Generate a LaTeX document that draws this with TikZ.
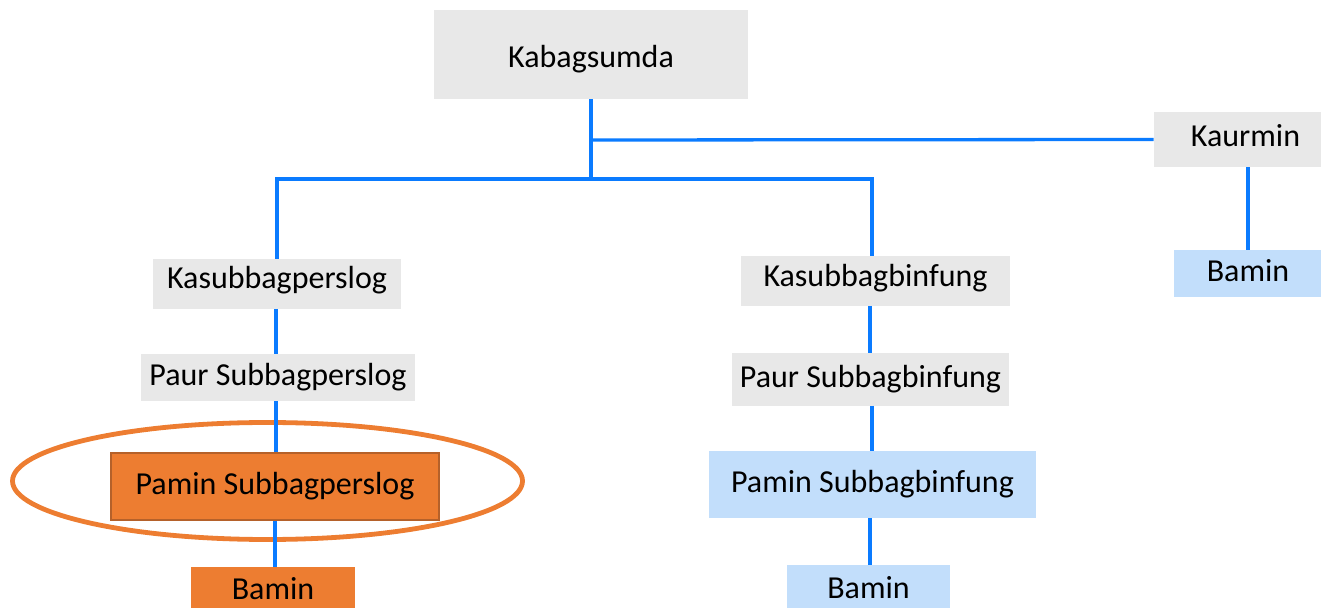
\documentclass[tikz,border=0pt]{standalone}
\usepackage{fontspec}
\setmainfont{Carlito}
\definecolor{boxgray}{HTML}{E8E8E8}
\definecolor{boxblue}{HTML}{C2DEFB}
\definecolor{boxorange}{HTML}{ED7D31}
\definecolor{orangeedge}{HTML}{B5612A}
\definecolor{linkblue}{HTML}{0A7BFF}
\begin{document}
\begin{tikzpicture}[x=0.5pt,y=-0.5pt,
  box/.style={rectangle, inner sep=0pt, text height=11.5pt, text depth=3.5pt, font=\fontsize{16pt}{19pt}\selectfont, text=black},
  graybox/.style={box, fill=boxgray},
  bluebox/.style={box, fill=boxblue},
  orangebox/.style={box, fill=boxorange},
  link/.style={draw=linkblue, line width=1.65pt}]
\useasboundingbox (0,0) rectangle (1321,608);
\clip (0,0) rectangle (1321,608);
% nodes
\node[graybox, minimum width=157pt, minimum height=44.5pt] (kab) at (591,54.5) {\raisebox{-2.5pt}{Kabagsumda}};
\node[graybox, minimum width=94pt, minimum height=27.5pt] (kaur) at (1248,139.5) {\hspace*{-2.5pt}\raisebox{0.5pt}{Kaurmin}};
\node[bluebox, minimum width=74pt, minimum height=23.5pt] (bamR) at (1248,273.5) {Bamin};
\node[graybox, minimum width=124pt, minimum height=25pt] (ksp) at (277,284) {\raisebox{1.5pt}{Kasubbagperslog}};
\node[graybox, minimum width=137pt, minimum height=23.5pt] (psp) at (278,377.5) {Paur Subbagperslog};
\node[orangebox, draw=orangeedge, line width=0.9pt, minimum width=164pt, minimum height=33.5pt] (pmp) at (275,486.5) {Pamin Subbagperslog};
\node[orangebox, minimum width=82pt, minimum height=21pt] (bamL) at (273,588) {\raisebox{-1.75pt}{Bamin}};
\node[graybox, minimum width=134.5pt, minimum height=25pt] (ksb) at (875.5,281) {\raisebox{1pt}{Kasubbagbinfung}};
\node[graybox, minimum width=138.5pt, minimum height=26.5pt] (psb) at (870.5,379.5) {Paur Subbagbinfung};
\node[bluebox, minimum width=163.5pt, minimum height=33.5pt] (pmb) at (872.5,484.5) {Pamin Subbagbinfung};
\node[bluebox, minimum width=81.5pt, minimum height=21.5pt] (bamM) at (868.5,586.5) {\raisebox{-1.75pt}{Bamin}};
% highlight ellipse
\draw[boxorange, line width=2.4pt] (267.5,481) ellipse [x radius=127.5pt, y radius=29.25pt];
% connectors
\coordinate (j0) at (591,140);
\coordinate (j1) at (591,179);
\coordinate (rb) at (872,179);
\coordinate (lb) at (277,179);
\draw[link] (kab.south) -- (j1);
\draw[link] (j0) -- (kaur.west);
\draw[link, line join=miter] (ksp.north) -- (lb) -- (rb) -- (rb |- ksb.north);
\draw[link] (kaur.south) -- (bamR.north);
\draw[link] (276,309) -- (276,354);
\draw[link] ([xshift=-1pt]psp.south) -- ([xshift=-1pt]psp.south |- pmp.north);
\draw[link] (pmp.south) -- (pmp.south |- bamL.north);
\draw[link] (870,306) -- (870,353);
\draw[link] (872,406) -- (872,451);
\draw[link] (870,518) -- (870,565);
\end{tikzpicture}
\end{document}
